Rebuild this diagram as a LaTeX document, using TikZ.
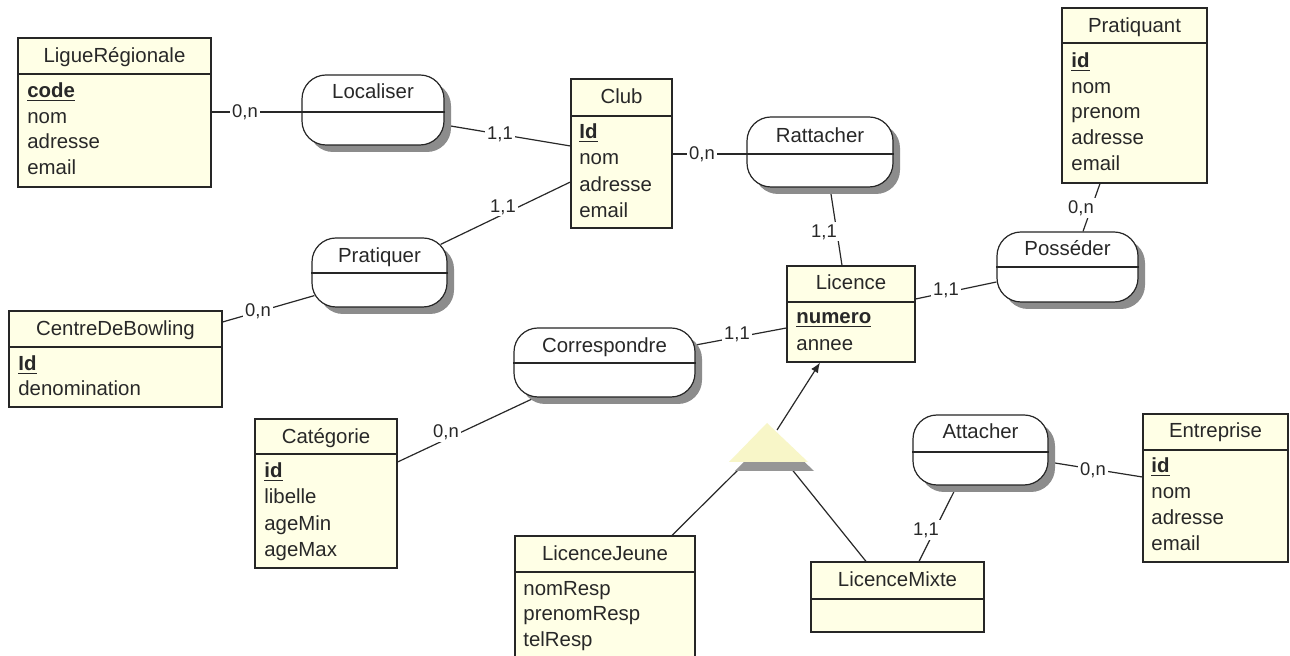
\documentclass[tikz,border=0pt]{standalone}
\usepackage{fontspec}
\setmainfont{Liberation Sans}
\usetikzlibrary{fit,shadows,calc,backgrounds,arrows.meta}
\definecolor{entfill}{RGB}{255,255,230}
\definecolor{txt}{RGB}{40,40,40}
\definecolor{shadowgray}{RGB}{140,140,140}
\definecolor{trifill}{RGB}{248,246,200}
\definecolor{trishadow}{RGB}{150,150,150}
\begin{document}
\begin{tikzpicture}[x=0.5pt,y=-0.5pt,
  entbox/.style={draw=black!85, line width=0.6pt, fill=entfill, inner sep=0pt},
  relbox/.style={draw=black!85, line width=0.6pt, fill=white, inner sep=0pt, rounded corners=12pt,
     drop shadow={shadow xshift=3.5pt, shadow yshift=-3.5pt, fill=shadowgray, opacity=1}},
  ttl/.style={font=\fontsize{10.2}{12}\selectfont, text=txt, inner sep=0pt, anchor=mid},
  attr/.style={font=\fontsize{10.2}{12}\selectfont, text=txt, inner sep=0pt, anchor=mid west},
  card/.style={font=\fontsize{9.2}{11}\selectfont, text=txt, fill=white, inner sep=1pt},
  link/.style={draw=txt, line width=0.6pt},
  sep/.style={draw=black!85, line width=0.6pt}]
\path[use as bounding box] (0,0) rectangle (1290,656);
\clip (0,0) rectangle (1290,656);

% ---------- entities ----------
\node (ligue) [entbox, fit={(18,38) (211,187)}] {};
\draw[sep] (ligue.west |- 0,74) -- (ligue.east |- 0,74);
\node[ttl] (ligueT) at (ligue.center |- 0,57) {LigueRégionale};
\node[attr] (ligueA1) at (27,92) {\underline{\textbf{code}}};
\node[attr] (ligueA2) at (27,118) {nom};
\node[attr] (ligueA3) at (27,143) {adresse};
\node[attr] (ligueA4) at (27,169) {email};

\node (club) [entbox, fit={(571,79) (672,228)}] {};
\draw[sep] (club.west |- 0,116) -- (club.east |- 0,116);
\node[ttl] (clubT) at (club.center |- 0,98) {Club};
\node[attr] (clubA1) at (579,133) {\underline{\textbf{Id}}};
\node[attr] (clubA2) at (579,159) {nom};
\node[attr] (clubA3) at (579,186) {adresse};
\node[attr] (clubA4) at (579,212) {email};

\node (cdb) [entbox, fit={(9,311) (222,407)}] {};
\draw[sep] (cdb.west |- 0,347) -- (cdb.east |- 0,347);
\node[ttl] (cdbT) at (cdb.center |- 0,330) {CentreDeBowling};
\node[attr] (cdbA1) at (18,365) {\underline{\textbf{Id}}};
\node[attr] (cdbA2) at (18,390) {denomination};

\node (prat) [entbox, fit={(1062,8) (1207,183)}] {};
\draw[sep] (prat.west |- 0,43) -- (prat.east |- 0,43);
\node[ttl] (pratT) at (prat.center |- 0,27) {Pratiquant};
\node[attr] (pratA1) at (1071,62) {\underline{\textbf{id}}};
\node[attr] (pratA2) at (1071,88) {nom};
\node[attr] (pratA3) at (1071,113) {prenom};
\node[attr] (pratA4) at (1071,139) {adresse};
\node[attr] (pratA5) at (1071,165) {email};

\node (lic) [entbox, fit={(787,266) (915,362)}] {};
\draw[sep] (lic.west |- 0,302) -- (lic.east |- 0,302);
\node[ttl] (licT) at (lic.center |- 0,284) {Licence};
\node[attr] (licA1) at (796,318) {\underline{\textbf{numero}}};
\node[attr] (licA2) at (796,345) {annee};

\node (cat) [entbox, fit={(255,419) (397,568)}] {};
\draw[sep] (cat.west |- 0,454) -- (cat.east |- 0,454);
\node[ttl] (catT) at (cat.center |- 0,438) {Catégorie};
\node[attr] (catA1) at (264,472) {\underline{\textbf{id}}};
\node[attr] (catA2) at (264,498) {libelle};
\node[attr] (catA3) at (264,525) {ageMin};
\node[attr] (catA4) at (264,551) {ageMax};

\node (lj) [entbox, fit={(515,536) (695,680)}] {};
\draw[sep] (lj.west |- 0,572) -- (lj.east |- 0,572);
\node[ttl] (ljT) at (lj.center |- 0,555) {LicenceJeune};
\node[attr] (ljA1) at (523,590) {nomResp};
\node[attr] (ljA2) at (523,615) {prenomResp};
\node[attr] (ljA3) at (523,641) {telResp};

\node (lm) [entbox, fit={(811,562) (984,632)}] {};
\draw[sep] (lm.west |- 0,599) -- (lm.east |- 0,599);
\node[ttl] (lmT) at (lm.center |- 0,581) {LicenceMixte};

\node (ent) [entbox, fit={(1143,414) (1288,562)}] {};
\draw[sep] (ent.west |- 0,450) -- (ent.east |- 0,450);
\node[ttl] (entT) at (ent.center |- 0,432) {Entreprise};
\node[attr] (entA1) at (1151,467) {\underline{\textbf{id}}};
\node[attr] (entA2) at (1151,493) {nom};
\node[attr] (entA3) at (1151,519) {adresse};
\node[attr] (entA4) at (1151,545) {email};

% ---------- relationships ----------
\node (loc) [relbox, fit={(302,75) (444,145)}] {};
\draw[sep] (loc.west |- 0,112) -- (loc.east |- 0,112);
\node[ttl] (locT) at (loc.center |- 0,93) {Localiser};

\node (rat) [relbox, fit={(747,117) (893,187)}] {};
\draw[sep] (rat.west |- 0,154) -- (rat.east |- 0,154);
\node[ttl] (ratT) at (rat.center |- 0,137) {Rattacher};

\node (pq) [relbox, fit={(312,238) (447,307)}] {};
\draw[sep] (pq.west |- 0,273) -- (pq.east |- 0,273);
\node[ttl] (pqT) at (pq.center |- 0,257) {Pratiquer};

\node (pos) [relbox, fit={(997,232) (1138,302)}] {};
\draw[sep] (pos.west |- 0,267) -- (pos.east |- 0,267);
\node[ttl] (posT) at (pos.center |- 0,250) {Posséder};

\node (cor) [relbox, fit={(514,328) (695,397)}] {};
\draw[sep] (cor.west |- 0,363) -- (cor.east |- 0,363);
\node[ttl] (corT) at (cor.center |- 0,347) {Correspondre};

\node (att) [relbox, fit={(913,415) (1048,485)}] {};
\draw[sep] (att.west |- 0,452) -- (att.east |- 0,452);
\node[ttl] (attT) at (att.center |- 0,433) {Attacher};

% ---------- inheritance triangle ----------
\coordinate (triA) at (767,423);
\coordinate (triL) at (729,462);
\coordinate (triR) at (808,462);
\fill[trishadow] ($(triA)+(6,9)$) -- ($(triL)+(6,9)$) -- ($(triR)+(6,9)$) -- cycle;
\fill[trifill] (triA) -- (triL) -- (triR) -- cycle;
\coordinate (triTop) at (777,430);
\coordinate (triBL) at (746,462);
\coordinate (triBR) at (786,462);

% ---------- connectors ----------
\begin{scope}[on background layer]
\fill[white] (0,0) rectangle (1290,656);
\draw[link] (ligue.east |- 0,112) -- (loc.west |- 0,112);
\draw[link] ($(loc.east)+(0,15)$) -- (club.west |- 0,146);
\draw[link] (club.east |- 0,154) -- (rat.west |- 0,154);
\draw[link] ($(pq.north east)+(-7,7)$) -- (club.west |- 0,182);
\draw[link] (cdb.east |- 0,322) -- ($(pq.south west)+(3,-12)$);
\draw[link] (830,0 |- rat.south) -- (842,0 |- lic.north);
\draw[link] (1100,0 |- prat.south) -- (1083,0 |- pos.north);
\draw[link] (lic.east |- 0,299) -- (pos.west |- 0,282);
\draw[link] (cor.east |- 0,345) -- (lic.west |- 0,328);
\draw[link] (cat.east |- 0,462) -- (535,0 |- cor.south);
\draw[link] (957,0 |- att.south) -- (919,0 |- lm.north);
\draw[link] (att.east |- 0,462) -- (ent.west |- 0,477);
\draw[link] (triBL) -- (672,0 |- lj.north);
\draw[link] (triBR) -- (866,0 |- lm.north);
\end{scope}
\draw[link, -{Latex[length=5pt,width=4pt]}] (triTop) -- (820,0 |- lic.south);

% ---------- cardinalities ----------
\node[card] (c1) at (245,112) {0,n};
\node[card] (c2) at (500,134) {1,1};
\node[card] (c3) at (702,154) {0,n};
\node[card] (c4) at (503,207) {1,1};
\node[card] (c5) at (258,311) {0,n};
\node[card] (c6) at (824,232) {1,1};
\node[card] (c7) at (1081,208) {0,n};
\node[card] (c8) at (946,290) {1,1};
\node[card] (c9) at (737,334) {1,1};
\node[card] (c10) at (446,432) {0,n};
\node[card] (c11) at (926,530) {1,1};
\node[card] (c12) at (1093,470) {0,n};
\end{tikzpicture}
\end{document}
